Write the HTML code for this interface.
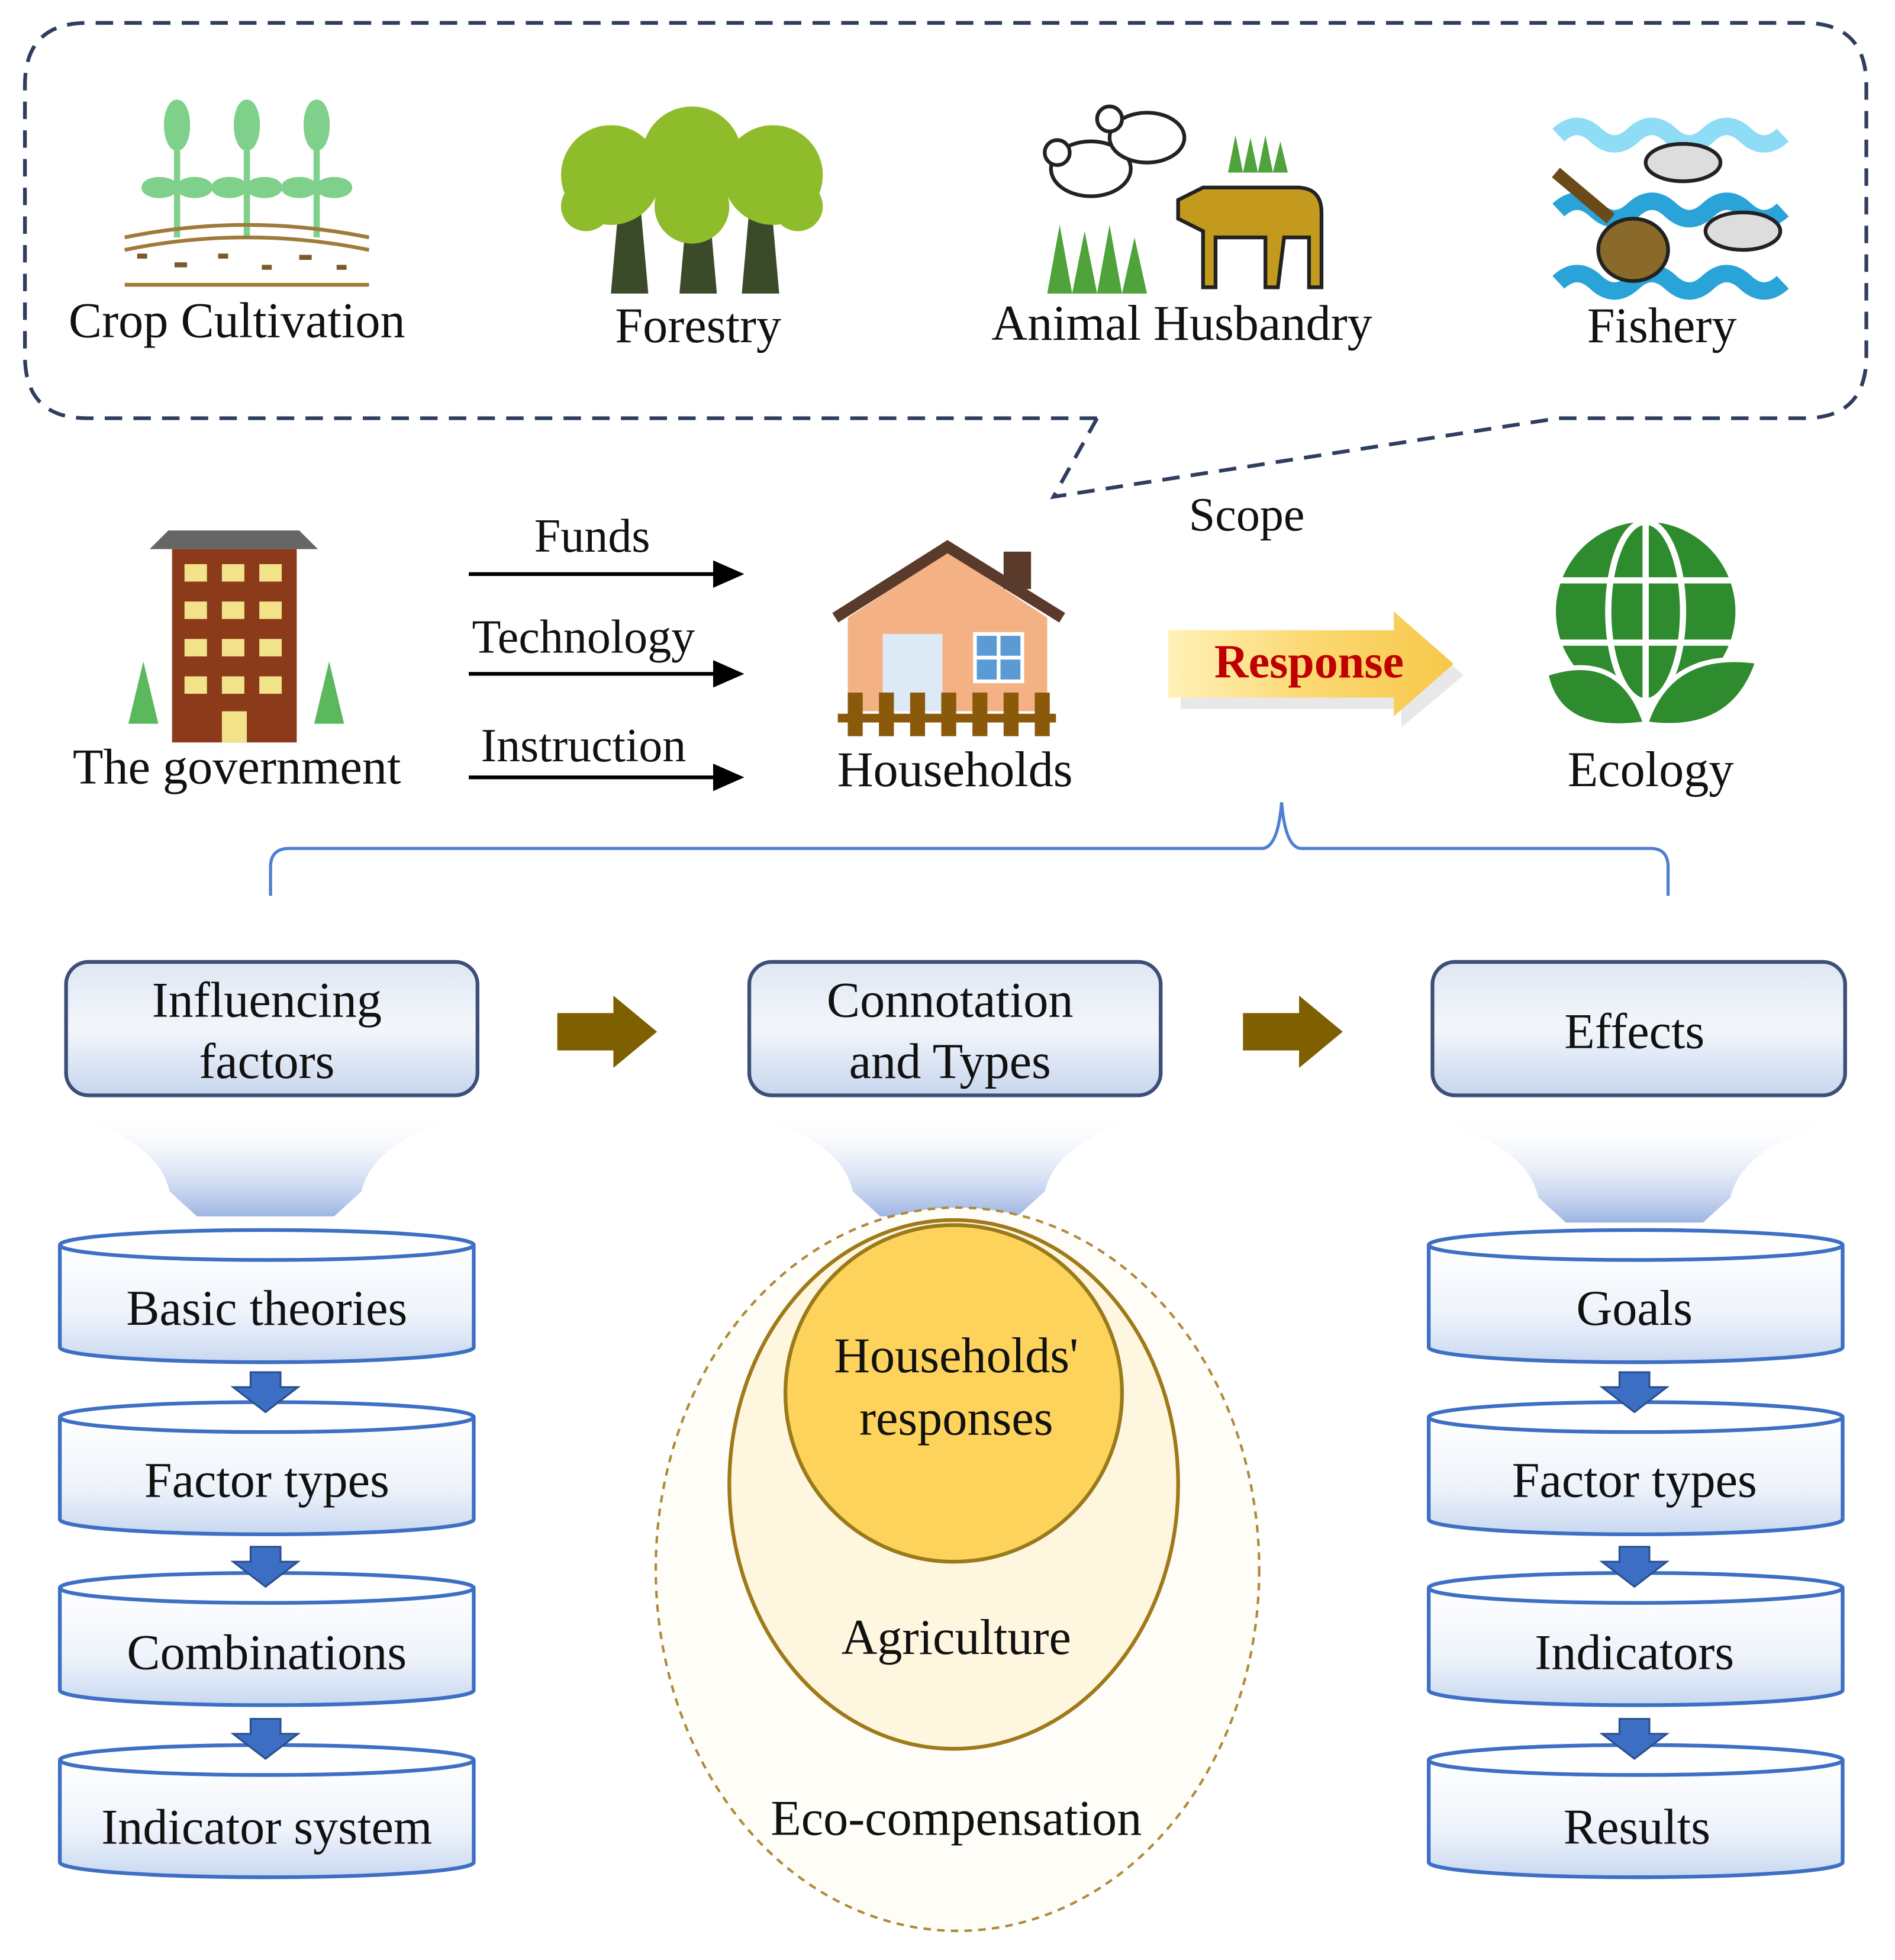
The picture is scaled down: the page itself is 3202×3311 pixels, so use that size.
<!DOCTYPE html>
<html><head><meta charset="utf-8"><style>
html,body{margin:0;padding:0;background:#fff}
svg{display:block}
text{font-family:"Liberation Serif",serif;fill:#111}
</style></head><body>
<svg width="3202" height="3311" viewBox="0 0 1520 1571" xmlns="http://www.w3.org/2000/svg">
<defs>
<linearGradient id="box" x1="0" y1="0" x2="0" y2="1">
<stop offset="0" stop-color="#dfe7f3"/><stop offset="0.5" stop-color="#f3f6fb"/><stop offset="1" stop-color="#c7d6ee"/></linearGradient>
<linearGradient id="cyl" x1="0" y1="0" x2="0" y2="1">
<stop offset="0" stop-color="#ffffff"/><stop offset="0.6" stop-color="#eef3fb"/><stop offset="1" stop-color="#c9d8f0"/></linearGradient>
<linearGradient id="fun" x1="0" y1="0" x2="0" y2="1">
<stop offset="0" stop-color="#ffffff" stop-opacity="0"/><stop offset="1" stop-color="#9db5e3"/></linearGradient>
<linearGradient id="resp" x1="0" y1="0" x2="1" y2="0">
<stop offset="0" stop-color="#fff2b8"/><stop offset="0.5" stop-color="#fbd871"/><stop offset="1" stop-color="#f7c84a"/></linearGradient>
<g id="darr"><path d="M-12,0 h24 v12 h14 l-26,20 l-26,-20 h14 z" fill="#3c6fc4" stroke="#2a4f8f" stroke-width="1.5"/></g>
</defs>

<path d="M880,335 L70,335 Q20,335 20,285 L20,68 Q20,18 70,18 L1447,18 Q1497,18 1497,68 L1497,285 Q1497,335 1447,335 L1250,335 L845,398 L880,335" fill="none" stroke="#2f3e5e" stroke-width="3" stroke-dasharray="14,9"/>

<g stroke="#7ed08a" stroke-width="5" fill="#7ed08a">
<line x1="142" y1="100" x2="142" y2="190"/><line x1="198" y1="100" x2="198" y2="190"/><line x1="254" y1="100" x2="254" y2="190"/>
<ellipse cx="142" cy="100" rx="8" ry="18"/><ellipse cx="198" cy="100" rx="8" ry="18"/><ellipse cx="254" cy="100" rx="8" ry="18"/>
<ellipse cx="128" cy="150" rx="12" ry="6"/><ellipse cx="156" cy="150" rx="12" ry="6"/><ellipse cx="184" cy="150" rx="12" ry="6"/><ellipse cx="212" cy="150" rx="12" ry="6"/><ellipse cx="240" cy="150" rx="12" ry="6"/><ellipse cx="268" cy="150" rx="12" ry="6"/>
</g>
<path d="M100,190 Q198,170 296,190 M100,200 Q198,180 296,200 M100,228 L296,228" stroke="#a07a3a" stroke-width="3" fill="none"/>
<path d="M110,205 h8 M140,212 h10 M175,205 h8 M210,214 h8 M240,206 h10 M270,214 h8" stroke="#7a5a2a" stroke-width="4"/>
<text x="190" y="270" font-size="40" text-anchor="middle">Crop Cultivation</text>

<g fill="#3b4a28"><path d="M490,235 l8,-90 h14 l8,90z"/><path d="M545,235 l8,-90 h14 l8,90z"/><path d="M595,235 l8,-90 h14 l8,90z"/></g>
<g fill="#8fbc2a"><circle cx="490" cy="140" r="40"/><circle cx="555" cy="125" r="40"/><circle cx="620" cy="140" r="40"/><circle cx="470" cy="165" r="20"/><circle cx="640" cy="165" r="20"/><circle cx="555" cy="165" r="30"/></g>
<text x="560" y="274" font-size="40" text-anchor="middle">Forestry</text>

<g fill="#fff" stroke="#222" stroke-width="3">
<ellipse cx="875" cy="135" rx="32" ry="22"/><ellipse cx="920" cy="110" rx="30" ry="20"/>
<circle cx="848" cy="122" r="10"/><circle cx="890" cy="95" r="10"/></g>
<path d="M840,235 l10,-55 l10,55 l10,-50 l10,50 l10,-55 l10,55 l10,-45 l10,45z M985,138 l6,-30 l6,30 l6,-28 l6,28 l6,-30 l6,30 l6,-25 l6,25z" fill="#4fa33a"/>
<path d="M945,160 l20,-10 h75 q20,0 20,20 v60 h-10 v-40 h-20 l-5,40 h-10 v-40 h-40 v40 h-10 v-45 l-20,-10z" fill="#c39a1e" stroke="#222" stroke-width="3"/>
<text x="948" y="272" font-size="40" text-anchor="middle">Animal Husbandry</text>

<g fill="none" stroke-width="14">
<path d="M1250,108 q15,-14 30,0 t30,0 t30,0 t30,0 t30,0 t30,0" stroke="#8fdcf7"/>
<path d="M1250,168 q15,-14 30,0 t30,0 t30,0 t30,0 t30,0 t30,0" stroke="#29a3d8"/>
<path d="M1250,226 q15,-14 30,0 t30,0 t30,0 t30,0 t30,0 t30,0" stroke="#29a3d8"/></g>
<line x1="1248" y1="138" x2="1292" y2="175" stroke="#6b4a1a" stroke-width="10"/>
<ellipse cx="1310" cy="200" rx="28" ry="25" fill="#8a6a2a" stroke="#222" stroke-width="3"/>
<ellipse cx="1350" cy="130" rx="30" ry="15" fill="#ddd" stroke="#222" stroke-width="3"/>
<ellipse cx="1398" cy="185" rx="30" ry="15" fill="#ddd" stroke="#222" stroke-width="3"/>
<text x="1333" y="274" font-size="40" text-anchor="middle">Fishery</text>

<path d="M120,440 L135,425 H240 L255,440z" fill="#666"/>
<rect x="138" y="440" width="100" height="155" fill="#8b3a1a"/>
<g fill="#f2e28a">
<rect x="148" y="452" width="18" height="14"/><rect x="178" y="452" width="18" height="14"/><rect x="208" y="452" width="18" height="14"/>
<rect x="148" y="482" width="18" height="14"/><rect x="178" y="482" width="18" height="14"/><rect x="208" y="482" width="18" height="14"/>
<rect x="148" y="512" width="18" height="14"/><rect x="178" y="512" width="18" height="14"/><rect x="208" y="512" width="18" height="14"/>
<rect x="148" y="542" width="18" height="14"/><rect x="178" y="542" width="18" height="14"/><rect x="208" y="542" width="18" height="14"/>
<rect x="178" y="570" width="20" height="25"/></g>
<path d="M103,580 l12,-50 l12,50z M252,580 l12,-50 l12,50z" fill="#5cb85c"/>
<text x="190" y="628" font-size="40" text-anchor="middle">The government</text>

<g stroke="#000" stroke-width="3">
<line x1="376" y1="460" x2="575" y2="460"/><line x1="376" y1="540" x2="575" y2="540"/><line x1="376" y1="623" x2="575" y2="623"/></g>
<g fill="#000"><path d="M572,449 L597,460 L572,471z"/><path d="M572,529 L597,540 L572,551z"/><path d="M572,612 L597,623 L572,634z"/></g>
<text x="475" y="442" font-size="38" text-anchor="middle">Funds</text>
<text x="468" y="523" font-size="38" text-anchor="middle">Technology</text>
<text x="468" y="610" font-size="38" text-anchor="middle">Instruction</text>

<path d="M680,495 L760,442 L840,495 V570 H680z" fill="#f4b183"/>
<path d="M670,495 L760,438 L852,495" fill="none" stroke="#5a3a2a" stroke-width="9"/>
<rect x="805" y="442" width="22" height="30" fill="#5a3a2a"/>
<rect x="708" y="508" width="48" height="62" fill="#dde9f5"/>
<rect x="782" y="508" width="38" height="38" fill="#5b9bd5" stroke="#fff" stroke-width="3"/>
<path d="M801,508 v38 M782,527 h38" stroke="#fff" stroke-width="3"/>
<g fill="#8a5a0a"><rect x="672" y="572" width="175" height="7"/><rect x="680" y="555" width="12" height="35"/><rect x="705" y="555" width="12" height="35"/><rect x="730" y="555" width="12" height="35"/><rect x="755" y="555" width="12" height="35"/><rect x="780" y="555" width="12" height="35"/><rect x="805" y="555" width="12" height="35"/><rect x="830" y="555" width="12" height="35"/></g>
<text x="766" y="630" font-size="40" text-anchor="middle">Households</text>

<text x="1000" y="425" font-size="38" text-anchor="middle">Scope</text>

<path d="M943,508 H1120 V493 L1170,535 L1120,577 V562 H943z" fill="#d8d8d8" opacity="0.6" transform="translate(4,6)"/>
<path d="M937,505 H1118 V490 L1166,532 L1118,574 V559 H937z" fill="url(#resp)"/>
<text x="1050" y="543" font-size="38" font-weight="bold" text-anchor="middle" style="fill:#c00000">Response</text>

<circle cx="1320" cy="490" r="72" fill="#2e8b2e"/>
<g stroke="#fff" stroke-width="5" fill="none"><ellipse cx="1320" cy="490" rx="30" ry="72"/><line x1="1320" y1="418" x2="1320" y2="562"/><line x1="1250" y1="465" x2="1390" y2="465"/><line x1="1250" y1="515" x2="1390" y2="515"/></g>
<path d="M1320,580 Q1250,590 1240,540 Q1300,520 1320,580 Q1340,520 1410,530 Q1390,590 1320,580z" fill="#2e8b2e" stroke="#fff" stroke-width="4"/>
<text x="1324" y="630" font-size="40" text-anchor="middle">Ecology</text>

<path d="M217,718 V695 Q217,680 232,680 H1012 Q1025,680 1028,643 Q1031,680 1044,680 H1324 Q1338,680 1338,695 V718" fill="none" stroke="#4f7fd0" stroke-width="2.5"/>

<path d="M40,890 H390 Q300,910 290,955 L268,975 H158 L136,955 Q126,910 40,890z" fill="url(#fun)"/>
<path d="M588,890 H938 Q848,910 838,955 L816,975 H706 L684,955 Q674,910 588,890z" fill="url(#fun)"/>
<path d="M1138,895 H1488 Q1398,915 1388,960 L1366,980 H1256 L1234,960 Q1224,915 1138,895z" fill="url(#fun)"/>

<g stroke="#3d4f78" stroke-width="3" fill="url(#box)">
<rect x="53" y="771" width="330" height="107" rx="18"/>
<rect x="601" y="771" width="330" height="107" rx="18"/>
<rect x="1149" y="771" width="331" height="107" rx="18"/></g>
<g font-size="40" text-anchor="middle">
<text x="214" y="815">Influencing</text><text x="214" y="864">factors</text>
<text x="762" y="815">Connotation</text><text x="762" y="864">and Types</text>
<text x="1311" y="840">Effects</text></g>

<path d="M447,812 H492 V798 L527,827 L492,856 V842 H447z" fill="#7f6000"/>
<path d="M997,812 H1042 V798 L1077,827 L1042,856 V842 H997z" fill="#7f6000"/>

<g stroke="#3d6fc4" stroke-width="3">
<g id="cyls">
<path d="M48,998 V1080 A166,12 0 0 0 380,1080 V998" fill="url(#cyl)"/><ellipse cx="214" cy="998" rx="166" ry="12" fill="#fff"/>
<path d="M48,1136 V1218 A166,12 0 0 0 380,1218 V1136" fill="url(#cyl)"/><ellipse cx="214" cy="1136" rx="166" ry="12" fill="#fff"/>
<path d="M48,1273 V1355 A166,12 0 0 0 380,1355 V1273" fill="url(#cyl)"/><ellipse cx="214" cy="1273" rx="166" ry="12" fill="#fff"/>
<path d="M48,1411 V1493 A166,12 0 0 0 380,1493 V1411" fill="url(#cyl)"/><ellipse cx="214" cy="1411" rx="166" ry="12" fill="#fff"/>
</g>
<use href="#cyls" transform="translate(1098,0)"/>
</g>
<g stroke-width="0">
<use href="#darr" x="213" y="1100"/><use href="#darr" x="213" y="1240"/><use href="#darr" x="213" y="1378"/>
<use href="#darr" x="1311" y="1100"/><use href="#darr" x="1311" y="1240"/><use href="#darr" x="1311" y="1378"/>
</g>
<g font-size="40" text-anchor="middle">
<text x="214" y="1062">Basic theories</text><text x="214" y="1200">Factor types</text><text x="214" y="1338">Combinations</text><text x="214" y="1478">Indicator system</text>
<text x="1311" y="1062">Goals</text><text x="1311" y="1200">Factor types</text><text x="1311" y="1338">Indicators</text><text x="1313" y="1478">Results</text></g>

<ellipse cx="768" cy="1258" rx="242" ry="290" fill="#fffdf8" stroke="#b08a3a" stroke-width="2" stroke-dasharray="6,5"/>
<ellipse cx="765" cy="1190" rx="180" ry="212" fill="#fff6df" stroke="#a07a1a" stroke-width="3"/>
<circle cx="765" cy="1117" r="135" fill="#fdd35c" stroke="#9a7a1a" stroke-width="3"/>
<g font-size="40" text-anchor="middle">
<text x="767" y="1100">Households'</text><text x="767" y="1150">responses</text>
<text x="767" y="1326">Agriculture</text><text x="767" y="1471">Eco-compensation</text></g>
</svg>
</body></html>
